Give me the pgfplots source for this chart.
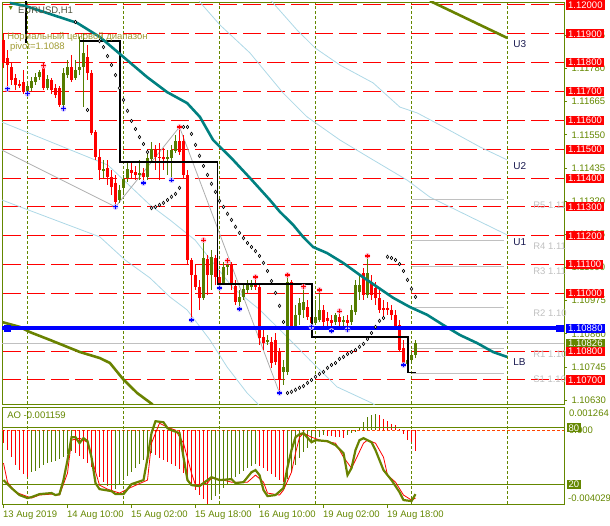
\documentclass[border=0pt]{standalone}
\usepackage{fontspec}
\setmainfont{Liberation Sans}
\usepackage{pgfplots}
\usepackage{pgfplotstable}
\pgfplotsset{compat=1.18}

\definecolor{bull}{RGB}{85,125,0}
\definecolor{bear}{RGB}{255,0,0}
\definecolor{frm}{RGB}{100,135,0}
\definecolor{tealma}{RGB}{0,128,128}
\definecolor{olv}{RGB}{105,130,0}
\definecolor{lblue}{RGB}{173,216,230}
\definecolor{pgray}{RGB}{192,192,192}
\definecolor{khaki}{RGB}{160,155,50}
\definecolor{navy}{RGB}{25,25,80}
\definecolor{aored}{RGB}{255,69,0}
\newcommand\lbl{\fontsize{9.5}{11}\selectfont}

% H1 candles, bar index i (0 = 13 Aug 18:00)
\pgfplotstableread{
i o h l c
6 1.11698 1.11726 1.11692 1.11719
7 1.11712 1.11750 1.11702 1.11737
8 1.11733 1.11764 1.11723 1.11750
9 1.11750 1.11775 1.11740 1.11768
11 1.11712 1.11757 1.11705 1.11744
15 1.11653 1.11782 1.11640 1.11764
16 1.11757 1.11809 1.11747 1.11785
18 1.11747 1.11809 1.11740 1.11775
19 1.11775 1.11889 1.11757 1.11785
20 1.11785 1.11903 1.11646 1.11834
25 1.11425 1.11463 1.11400 1.11432
29 1.11324 1.11376 1.11314 1.11359
30 1.11366 1.11411 1.11341 1.11397
31 1.11400 1.11452 1.11387 1.11432
34 1.11411 1.11463 1.11393 1.11418
36 1.11404 1.11497 1.11393 1.11470
37 1.11466 1.11525 1.11456 1.11501
41 1.11466 1.11497 1.11411 1.11473
42 1.11470 1.11515 1.11393 1.11497
43 1.11494 1.11549 1.11487 1.11529
50 1.10984 1.11185 1.10978 1.11123
52 1.11064 1.11151 1.11012 1.11127
55 1.11036 1.11109 1.11029 1.11092
56 1.11092 1.11113 1.11064 1.11099
59 1.10971 1.11012 1.10946 1.10988
60 1.10988 1.11029 1.10978 1.11016
61 1.11012 1.11047 1.11002 1.11029
62 1.11023 1.11047 1.11012 1.11036
66 1.10832 1.10856 1.10822 1.10839
70 1.10728 1.10770 1.10683 1.10745
71 1.10728 1.11064 1.10718 1.11040
73 1.10884 1.10960 1.10874 1.10926
74 1.10926 1.10984 1.10891 1.10967
75 1.10943 1.11023 1.10915 1.10971
78 1.10898 1.10978 1.10891 1.10919
79 1.10908 1.11012 1.10901 1.10943
83 1.10901 1.10932 1.10891 1.10926
85 1.10901 1.10922 1.10887 1.10908
87 1.10901 1.10960 1.10891 1.10943
88 1.10936 1.11047 1.10926 1.11029
89 1.11005 1.11064 1.10978 1.11029
91 1.10995 1.11130 1.10984 1.11071
101 1.10756 1.10797 1.10745 1.10770
102 1.10770 1.10804 1.10756 1.10787
103 1.10787 1.10839 1.10776 1.10828
}\bulls

\pgfplotstableread{
i o h l c
0 1.11879 1.11903 1.11782 1.11799
1 1.11816 1.11844 1.11709 1.11792
2 1.11785 1.11802 1.11723 1.11740
3 1.11747 1.11761 1.11705 1.11723
4 1.11726 1.11740 1.11712 1.11719
5 1.11733 1.11775 1.11692 1.11698
10 1.11785 1.11789 1.11705 1.11712
12 1.11740 1.11747 1.11692 1.11705
13 1.11712 1.11726 1.11678 1.11688
14 1.11712 1.11719 1.11646 1.11653
17 1.11785 1.11827 1.11733 1.11740
21 1.11820 1.11861 1.11740 1.11764
22 1.11764 1.11775 1.11549 1.11556
23 1.11560 1.11567 1.11463 1.11473
24 1.11473 1.11497 1.11393 1.11428
26 1.11435 1.11463 1.11376 1.11404
27 1.11404 1.11428 1.11341 1.11369
28 1.11383 1.11411 1.11300 1.11317
32 1.11428 1.11452 1.11400 1.11418
33 1.11421 1.11442 1.11393 1.11411
35 1.11418 1.11435 1.11383 1.11404
38 1.11501 1.11515 1.11428 1.11473
39 1.11473 1.11522 1.11393 1.11470
40 1.11473 1.11504 1.11428 1.11466
44 1.11529 1.11577 1.11480 1.11490
45 1.11529 1.11549 1.11400 1.11411
46 1.11411 1.11428 1.11099 1.11116
47 1.11116 1.11123 1.10908 1.11064
48 1.11064 1.11099 1.11012 1.11023
49 1.11023 1.11047 1.10943 1.10984
51 1.11120 1.11133 1.10995 1.11064
53 1.11123 1.11133 1.11029 1.11057
54 1.11057 1.11082 1.11019 1.11036
57 1.11099 1.11109 1.11012 1.11029
58 1.11026 1.11047 1.10960 1.10971
63 1.11036 1.11057 1.11012 1.11023
64 1.11023 1.11029 1.10822 1.10846
65 1.10849 1.10874 1.10804 1.10828
67 1.10832 1.10849 1.10742 1.10759
68 1.10839 1.10863 1.10752 1.10763
69 1.10797 1.10811 1.10655 1.10700
72 1.11040 1.11047 1.10874 1.10884
76 1.10953 1.10978 1.10908 1.10919
77 1.10919 1.10936 1.10884 1.10898
80 1.10943 1.10960 1.10887 1.10901
81 1.10915 1.10936 1.10880 1.10905
82 1.10908 1.10926 1.10870 1.10898
84 1.10919 1.10939 1.10887 1.10901
86 1.10908 1.10926 1.10874 1.10898
90 1.11071 1.11088 1.10978 1.10995
92 1.11040 1.11064 1.10978 1.10995
93 1.11019 1.11040 1.10960 1.10984
94 1.10984 1.11012 1.10932 1.10943
95 1.10950 1.10978 1.10915 1.10943
96 1.10950 1.10971 1.10926 1.10943
97 1.10943 1.10960 1.10908 1.10926
98 1.10926 1.10943 1.10874 1.10884
99 1.10891 1.10908 1.10797 1.10804
100 1.10811 1.10839 1.10752 1.10759
}\bears

% parabolic SAR
\pgfplotstableread{
i p
18 1.11941
21 1.11636
24 1.11875
25 1.11854
26 1.11823
27 1.11792
28 1.11757
29 1.11712
30 1.11671
31 1.11633
32 1.11598
33 1.11570
34 1.11542
35 1.11518
36 1.11490
37 1.11296
38 1.11300
39 1.11307
40 1.11314
41 1.11324
42 1.11335
43 1.11345
44 1.11366
45 1.11577
46 1.11577
47 1.11553
48 1.11515
49 1.11477
50 1.11442
51 1.11411
52 1.11380
53 1.11352
54 1.11321
55 1.11300
56 1.11276
57 1.11255
58 1.11231
59 1.11210
60 1.11192
61 1.11175
62 1.11161
63 1.11147
64 1.11130
65 1.11106
66 1.11078
67 1.11043
68 1.11002
69 1.10957
70 1.10901
71 1.10655
72 1.10659
73 1.10666
74 1.10673
75 1.10679
76 1.10690
77 1.10700
78 1.10711
79 1.10721
80 1.10728
81 1.10742
82 1.10752
83 1.10759
84 1.10773
85 1.10780
86 1.10790
87 1.10797
88 1.10804
89 1.10815
90 1.10825
91 1.10842
92 1.10863
93 1.10884
94 1.10905
95 1.10915
96 1.11127
97 1.11123
98 1.11116
99 1.11102
100 1.11078
101 1.11047
102 1.11016
103 1.10988
}\sar

% Awesome oscillator, rising and falling bars
\pgfplotstableread{
i v
7 -0.002290
8 -0.002236
9 -0.002073
10 -0.001909
11 -0.001801
12 -0.001746
13 -0.001692
14 -0.001583
15 -0.001474
16 -0.001311
17 -0.001148
28 -0.003215
29 -0.002997
30 -0.002725
31 -0.002508
32 -0.002290
33 -0.002073
34 -0.001855
35 -0.001637
36 -0.001420
37 -0.001257
52 -0.003813
53 -0.003596
54 -0.003378
55 -0.003161
56 -0.002943
57 -0.002725
58 -0.002562
59 -0.002399
60 -0.002236
61 -0.002073
62 -0.001964
63 -0.001855
71 -0.002671
72 -0.002290
73 -0.001909
74 -0.001529
75 -0.001202
76 -0.000985
77 -0.000713
78 -0.000495
79 -0.000386
80 -0.000277
86 -0.000277
87 -0.000169
88 -0.000087
89 0.000103
90 0.000446
91 0.000718
92 0.000849
93 0.000903
}\aoup

\pgfplotstableread{
i v
0 -0.000713
1 -0.001093
2 -0.001474
3 -0.001909
4 -0.002181
5 -0.002399
6 -0.002562
18 -0.001257
19 -0.001420
20 -0.001583
21 -0.001801
22 -0.002018
23 -0.002290
24 -0.002562
25 -0.002834
26 -0.003052
27 -0.003269
38 -0.001365
39 -0.001529
40 -0.001637
41 -0.001746
42 -0.001855
43 -0.001964
44 -0.002127
45 -0.002345
46 -0.002671
47 -0.002997
48 -0.003269
49 -0.003541
50 -0.003759
51 -0.004029
64 -0.001964
65 -0.002073
66 -0.002236
67 -0.002399
68 -0.002562
69 -0.002725
70 -0.002834
81 -0.000305
82 -0.000332
83 -0.000359
84 -0.000386
85 -0.000413
94 0.000811
95 0.000631
96 0.000500
97 0.000359
98 0.000267
99 0.000087
100 -0.000185
101 -0.000549
102 -0.000642
103 -0.001159
}\aodown

% stochastic main and signal
\pgfplotstableread{
i s
0 24.6
2 16.1
4 8.7
6 5.5
7 6.5
9 9.7
12 10.8
13 8.7
14 9.7
15 24.6
16 45.8
17 70.1
18 70.1
19 63.8
20 69.1
21 65.9
22 48.9
23 21.4
24 15.0
27 12.9
28 9.7
30 9.7
32 20.3
35 24.6
36 47.9
37 74.4
38 87.1
40 86.0
41 79.7
42 77.6
44 74.4
45 48.9
46 24.6
47 19.3
49 18.2
50 21.4
52 27.7
54 24.6
57 25.6
58 21.4
60 22.4
62 33.0
63 35.2
64 29.9
65 14.0
66 7.6
68 8.7
70 16.1
71 38.3
72 56.4
73 70.1
74 73.3
75 74.4
77 64.8
78 67.0
81 65.9
83 61.7
85 53.2
86 29.9
87 37.3
88 56.4
89 67.0
90 69.1
92 64.8
93 56.4
95 35.2
96 29.9
97 24.6
99 11.8
100 3.4
102 2.3
103 9.7
}\stmain

\pgfplotstableread{
i s
0 42.6
1 22.4
3 11.8
7 5.5
9 8.7
12 9.7
14 8.7
16 32.0
17 67.0
19 69.1
21 64.8
22 47.9
24 19.3
26 15.0
29 10.8
32 17.1
36 24.6
37 63.8
39 85.0
41 80.7
43 77.6
45 63.8
47 32.0
48 19.3
51 21.4
52 26.7
55 24.6
57 22.4
61 22.4
63 29.9
65 22.4
66 10.8
69 8.7
70 14.0
72 33.0
73 53.2
74 70.1
75 74.4
77 70.1
80 65.9
83 63.8
85 48.9
87 37.3
88 45.8
90 63.8
91 67.0
93 63.8
95 48.9
96 29.9
98 22.4
100 8.7
102 3.4
103 5.5
}\stsig

\tikzset{
  pbox/.style={anchor=west, fill=#1, text=white, inner xsep=2pt, inner ysep=1.2pt, font=\lbl},
  rlab/.style={anchor=west, inner sep=0pt, text=pgray, font=\lbl},
  ulab/.style={anchor=west, inner sep=0pt, text=navy, font=\fontsize{10}{12}\selectfont},
  olab/.style={anchor=west, inner sep=0pt, text=frm, font=\lbl},
}

\begin{document}
\begin{tikzpicture}
\path[use as bounding box] (0,0) rectangle (610pt,525pt);
\pgfplotsset{
  mt/.style={scale only axis, width=562pt, xmin=-0.375, xmax=140.125,
    clip mode=individual,
    axis line style={frm, line width=0.8pt},
    tick style={frm, line width=0.8pt},
    ticklabel style={font=\lbl, text=frm},
    /pgf/number format/assume math mode=true},
  wick/.style={draw=none, forget plot, error bars/.cd, y dir=plus, y explicit,
    error mark=none, error bar style={draw=#1, solid, line width=1pt}},
  body/.style={draw=none, forget plot, error bars/.cd, y dir=plus, y explicit,
    error mark=none, error bar style={draw=#1, solid, line width=3pt}},
}

% ---------------- price panel
\begin{axis}[mt, at={(2pt,121pt)}, anchor=south west, height=402pt,
  ymin=1.106168, ymax=1.120104,
  xtick=\empty,
  ytick={1.10630,1.10745,1.10860,1.10975,1.11090,1.11205,1.11320,1.11435,1.11550,1.11665,1.11780,1.11895},
  yticklabels={1.10630,1.10745,1.10860,1.10975,1.11090,1.11205,1.11320,1.11435,1.11550,1.11665,1.11780,1.11895},
  ytick pos=right, yticklabel pos=right, tick align=outside, major tick length=3pt,
  yticklabel style={anchor=west, xshift=1pt},
  extra y ticks={1.107,1.108,1.110,1.111,1.112,1.113,1.114,1.115,1.116,1.117,1.118,1.119,1.120},
  extra y tick labels={},
  extra y tick style={grid=major, major tick length=0pt,
    grid style={bear, line width=1pt, dash pattern=on 18pt off 6pt, dash phase=-1pt}},
  extra x ticks={6,30,54,78,102,126}, extra x tick labels={},
  extra x tick style={grid=major, major tick length=0pt,
    grid style={frm, line width=0.8pt, dash pattern=on 3pt off 2pt}},
]
% channel lines
\addplot[lblue, line width=0.8pt] coordinates {(67.0,1.12014) (67.4,1.12007) (73.4,1.11913) (77.9,1.11851) (84.1,1.11792) (92.4,1.11730) (99.1,1.11646) (103.4,1.11626) (109.1,1.11584) (119.1,1.11508) (125.9,1.11463)};
\addplot[lblue, line width=0.8pt] coordinates {(48.9,1.12016) (49.1,1.12010) (54.1,1.11931) (61.6,1.11834) (69.9,1.11695) (75.9,1.11612) (84.1,1.11532) (92.4,1.11463) (100.9,1.11393) (106.6,1.11334) (125.9,1.11203)};
\addplot[lblue, line width=0.8pt] coordinates {(-0.4,1.11594) (26.1,1.11445) (36.6,1.11307) (41.6,1.11255) (47.9,1.11185) (57.4,1.11019) (64.1,1.10943) (69.9,1.10863) (76.6,1.10769) (83.4,1.10676) (92.1,1.10620) (93.1,1.10610)};
\addplot[lblue, line width=0.8pt] coordinates {(-0.4,1.11324) (24.1,1.11196) (30.4,1.11116) (36.6,1.11054) (41.6,1.10988) (45.9,1.10943) (51.6,1.10839) (55.9,1.10745) (60.9,1.10655) (63.4,1.10620) (63.9,1.10610)};
% zigzag
\addplot[pgray!90!black, line width=0.8pt] coordinates {(-0.4,1.11497) (28,1.11300) (44,1.11577) (69,1.10655)};
% pivot levels
\addplot[pgray, line width=1pt] coordinates {(102,1.11327) (125,1.11327)};
\addplot[pgray, line width=1pt] coordinates {(102,1.11182) (125,1.11182)};
\addplot[pgray, line width=1pt] coordinates {(102,1.11095) (125,1.11095)};
\addplot[pgray, line width=1pt] coordinates {(102,1.10953) (125,1.10953)};
\addplot[pgray, line width=1pt] coordinates {(102,1.10808) (125,1.10808)};
\addplot[pgray, line width=1pt] coordinates {(102,1.10721) (125,1.10721)};
% bid line
\addplot[pgray, line width=1pt] coordinates {(-0.4,1.10826) (140.2,1.10826)};
% candles
\addplot[wick=bull] table[x=i, y=l, y error plus expr=\thisrow{h}-\thisrow{l}] {\bulls};
\addplot[wick=bear] table[x=i, y=l, y error plus expr=\thisrow{h}-\thisrow{l}] {\bears};
\addplot[body=bull] table[x=i, y=o, y error plus expr=\thisrow{c}-\thisrow{o}] {\bulls};
\addplot[body=bear] table[x=i, y=c, y error plus expr=\thisrow{o}-\thisrow{c}] {\bears};
% daily range steps
\addplot[black, line width=1.2pt] coordinates {(5.6,1.12030) (5.6,1.11868)};
\addplot[black, line width=1.2pt] coordinates {(19.1,1.11875) (29.1,1.11875) (29.1,1.11456) (53.4,1.11456) (53.4,1.11033) (77.1,1.11033) (77.1,1.10849) (101.1,1.10849) (101.1,1.10725) (103,1.10725)};
% moving lines
\addplot[olv, line width=2.6pt] coordinates {(-0.4,1.10901) (4.1,1.10884) (6.6,1.10866) (11.6,1.10839) (19.1,1.10797) (24.1,1.10776) (26.6,1.10759) (29.9,1.10703) (33.4,1.10655) (37.1,1.10617) (38.6,1.10590)};
\addplot[olv, line width=2.6pt] coordinates {(106.6,1.12014) (125.9,1.11886)};
\addplot[tealma, line width=2.6pt] coordinates {(1.6,1.12007) (5.4,1.11997) (18.4,1.11938) (24.1,1.11889) (30.9,1.11809) (35.9,1.11750) (40.9,1.11698) (45.9,1.11660) (49.1,1.11612) (52.4,1.11532) (57.4,1.11463) (62.1,1.11393) (66.6,1.11324) (69.1,1.11283) (72.4,1.11238) (74.9,1.11196) (77.4,1.11161) (80.9,1.11140) (84.9,1.11106) (89.1,1.11064) (93.4,1.11023) (97.4,1.10985) (101.6,1.10953) (105.9,1.10926) (109.9,1.10891) (114.1,1.10856) (118.4,1.10828) (122.4,1.10797) (125.9,1.10780)};
% pivot line
\addplot[blue, line width=4pt] coordinates {(-0.4,1.10880) (140.2,1.10880)};
\addplot[blue, only marks, mark=square*, mark size=3.2pt] coordinates {(0.9,1.10880) (139.0,1.10880)};
% SAR
\addplot[only marks, mark=diamond*, mark size=1.7pt, mark options={fill=white, draw=black, line width=0.6pt}] table[x=i, y=p] {\sar};
% fractals
\addplot[only marks, mark=*, mark size=2.6pt, color={rgb,255:red,255;green,175;blue,200}] coordinates {(10,1.11789) (44,1.11577) (50,1.11185) (56,1.11113) (63,1.11057) (71,1.11064) (75,1.11023) (79,1.11012) (84,1.10939) (91,1.11130)};
\addplot[only marks, mark=+, mark size=2.4pt, line width=1.1pt, color=bear] coordinates {(10,1.11789) (44,1.11577) (50,1.11185) (56,1.11113) (63,1.11057) (71,1.11064) (75,1.11023) (79,1.11012) (84,1.10939) (91,1.11130)};
\addplot[only marks, mark=*, mark size=2.6pt, color={rgb,255:red,200;green,185;blue,255}] coordinates {(1,1.11709) (6,1.11692) (15,1.11640) (28,1.11300) (35,1.11383) (42,1.11393) (47,1.10908) (54,1.11019) (59,1.10946) (69,1.10655) (77,1.10884) (82,1.10870) (86,1.10874) (100,1.10752)};
\addplot[only marks, mark=+, mark size=2.4pt, line width=1.1pt, color=blue] coordinates {(1,1.11709) (6,1.11692) (15,1.11640) (28,1.11300) (35,1.11383) (42,1.11393) (47,1.10908) (54,1.11019) (59,1.10946) (69,1.10655) (77,1.10884) (82,1.10870) (86,1.10874) (100,1.10752)};
\end{axis}

% ---------------- annotations on the price panel
\begin{axis}[mt, at={(2pt,121pt)}, anchor=south west, height=402pt,
  ymin=1.106168, ymax=1.120104, hide axis, clip=false]
\node[anchor=west, inner sep=0pt, text=frm, font=\fontsize{7}{8}\selectfont] at (axis cs:0.9,1.11986) {▼};
\node[anchor=west, inner sep=0pt, text={rgb,255:red,80;green,85;blue,65}, font=\lbl] at (axis cs:3.6,1.11979) {EURUSD,H1};
\node[anchor=west, inner sep=0pt, text=khaki, font=\lbl] at (axis cs:0.9,1.11889) {Нормальный ценовой диапазон};
\node[anchor=west, inner sep=0pt, text=khaki, font=\lbl] at (axis cs:1.6,1.11854) {pivot=1.1088};
\node[ulab] at (axis cs:127.4,1.11865) {U3};
\node[ulab] at (axis cs:127.4,1.11442) {U2};
\node[ulab] at (axis cs:127.4,1.11178) {U1};
\node[ulab] at (axis cs:127.4,1.10762) {LB};
\node[rlab] at (axis cs:132.4,1.11307) {R5 1.11};
\node[rlab] at (axis cs:132.4,1.11164) {R4 1.11};
\node[rlab] at (axis cs:132.4,1.11078) {R3 1.11};
\node[rlab] at (axis cs:132.4,1.10932) {R2 1.10};
\node[rlab] at (axis cs:132.4,1.10790) {R1 1.10};
\node[rlab] at (axis cs:132.4,1.10703) {S1 1.10};
\node[pbox=bear] at ([xshift=2pt]axis cs:140.125,1.12000) {1.12000};
\node[pbox=bear] at ([xshift=2pt]axis cs:140.125,1.11900) {1.11900};
\node[pbox=bear] at ([xshift=2pt]axis cs:140.125,1.11800) {1.11800};
\node[pbox=bear] at ([xshift=2pt]axis cs:140.125,1.11700) {1.11700};
\node[pbox=bear] at ([xshift=2pt]axis cs:140.125,1.11600) {1.11600};
\node[pbox=bear] at ([xshift=2pt]axis cs:140.125,1.11500) {1.11500};
\node[pbox=bear] at ([xshift=2pt]axis cs:140.125,1.11400) {1.11400};
\node[pbox=bear] at ([xshift=2pt]axis cs:140.125,1.11300) {1.11300};
\node[pbox=bear] at ([xshift=2pt]axis cs:140.125,1.11200) {1.11200};
\node[pbox=bear] at ([xshift=2pt]axis cs:140.125,1.11100) {1.11100};
\node[pbox=bear] at ([xshift=2pt]axis cs:140.125,1.11000) {1.11000};
\node[pbox=blue] at ([xshift=2pt]axis cs:140.125,1.10880) {1.10880};
\node[pbox=frm] at ([xshift=2pt]axis cs:140.125,1.10826) {1.10826};
\node[pbox=bear] at ([xshift=2pt]axis cs:140.125,1.10800) {1.10800};
\node[pbox=bear] at ([xshift=2pt]axis cs:140.125,1.10700) {1.10700};
\end{axis}

% ---------------- AO panel
\begin{axis}[mt, at={(2pt,21pt)}, anchor=south west, height=97pt,
  ymin=-0.004029, ymax=0.001264, ytick=\empty,
  xtick={0,16,32,48,64,80,96},
  xticklabels={13 Aug 2019,14 Aug 10:00,15 Aug 02:00,15 Aug 18:00,16 Aug 10:00,19 Aug 02:00,19 Aug 18:00},
  xtick pos=bottom, tick align=outside, major tick length=4pt,
  xticklabel style={anchor=north west, inner sep=0pt, xshift=-0.5pt, yshift=-2.5pt},
  extra x ticks={6,30,54,78,102,126}, extra x tick labels={},
  extra x tick style={grid=major, major tick length=0pt,
    grid style={frm, line width=0.8pt, dash pattern=on 3pt off 2pt}},
]
\addplot[aored, line width=0.8pt, dash pattern=on 3pt off 2pt] coordinates {(-0.4,0) (140.2,0)};
\addplot[ycomb, bull, line width=1pt, mark=none] table[x=i, y=v] {\aoup};
\addplot[ycomb, bear, line width=1pt, mark=none] table[x=i, y=v] {\aodown};
\node[olab] at (axis cs:0.9,0.000812) {AO -0.001159};
\node[olab] at ([xshift=5pt]axis cs:140.125,0.000921) {0.001264};
\node[olab] at ([xshift=5pt]axis cs:140.125,0) {0.000};
\node[olab] at ([xshift=4pt]axis cs:140.125,-0.003703) {-0.004029};
\end{axis}

% ---------------- stochastic overlay
\begin{axis}[mt, at={(2pt,21pt)}, anchor=south west, height=97pt,
  ymin=-0.8, ymax=102.2, hide axis]
\addplot[frm, line width=1pt] coordinates {(-0.4,80) (140.2,80)};
\addplot[frm, line width=1pt] coordinates {(-0.4,20) (140.2,20)};
\addplot[bear, line width=0.8pt] table[x=i, y=s] {\stsig};
\addplot[olv, line width=2.2pt] table[x=i, y=s] {\stmain};
\node[pbox=frm, inner xsep=1.5pt] at ([xshift=3pt]axis cs:140.125,80) {80};
\node[pbox=frm, inner xsep=1.5pt] at ([xshift=3pt]axis cs:140.125,20) {20};
\end{axis}
\end{tikzpicture}
\end{document}
